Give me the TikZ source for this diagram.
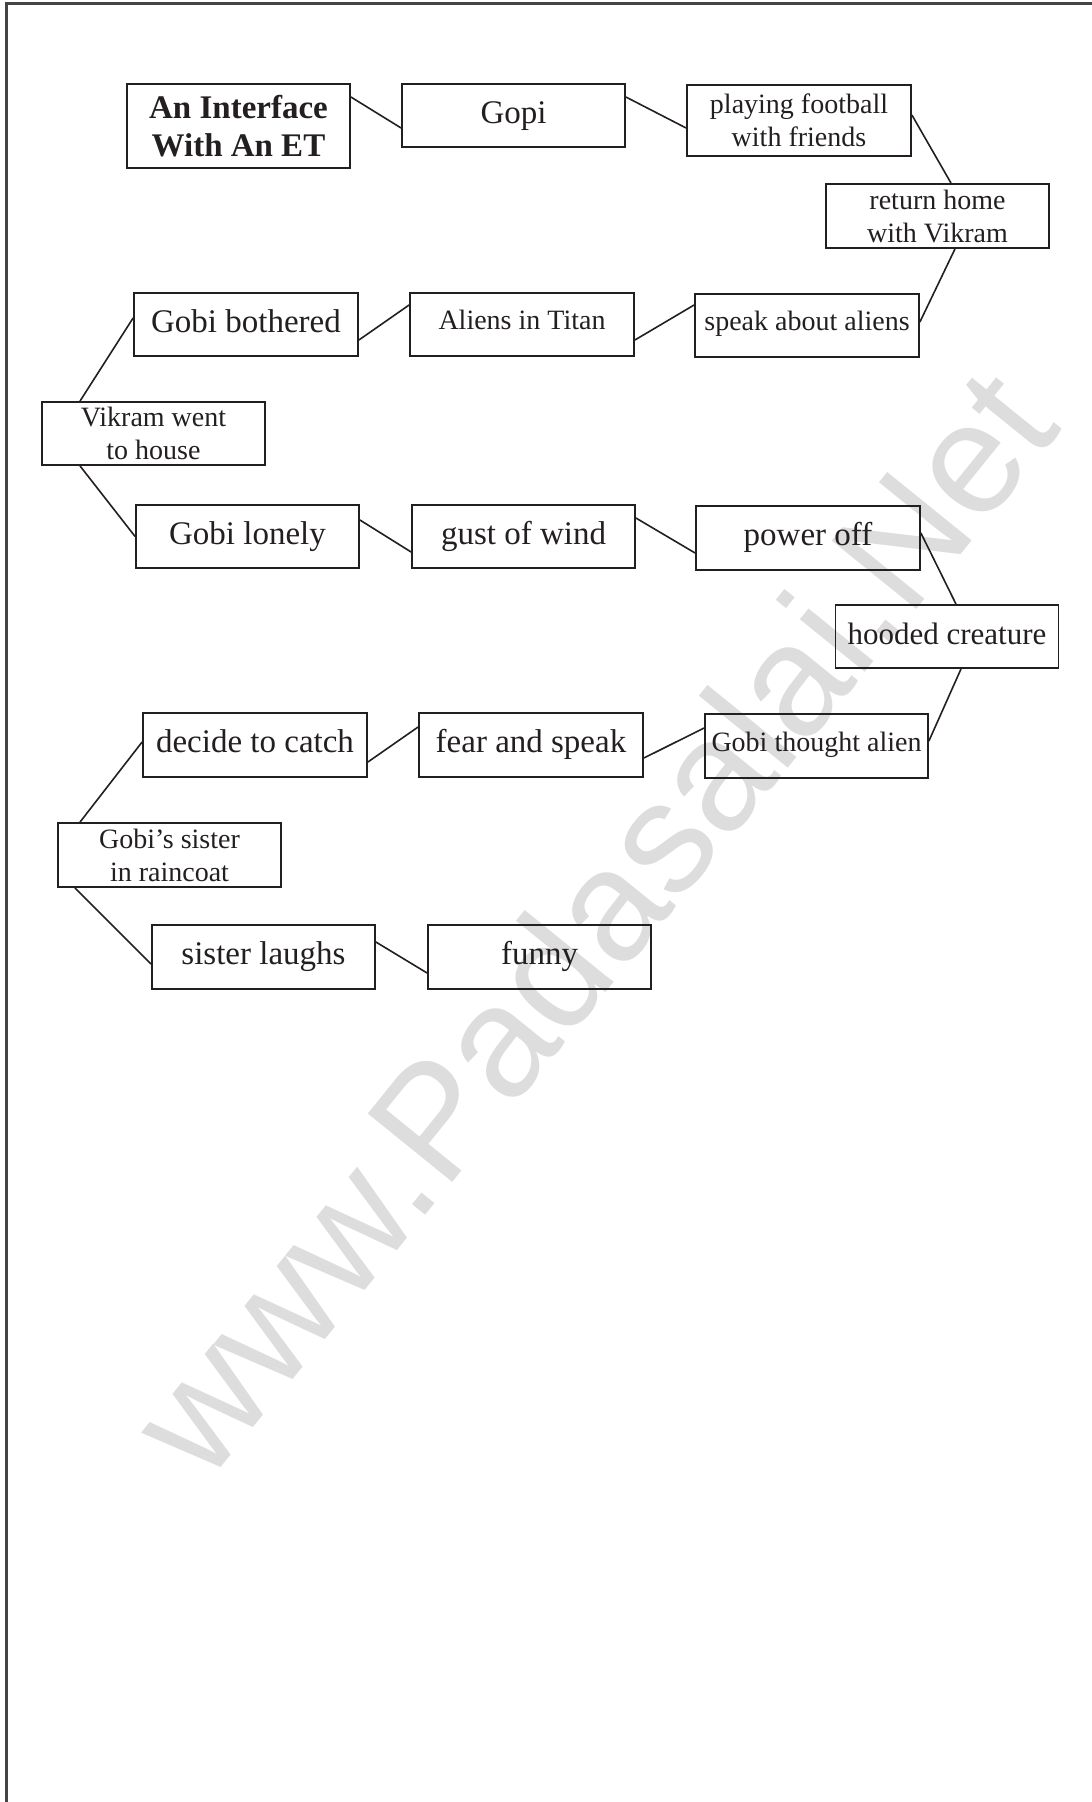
\documentclass[tikz,border=0pt]{standalone}
\usepackage{fontspec}
\setmainfont{Liberation Serif}
\newfontfamily\wmfont{Liberation Sans}
\definecolor{ink}{HTML}{231F20}
\definecolor{wmgray}{HTML}{DDDDDD}
\definecolor{framegray}{HTML}{444444}
\tikzset{
  box/.style={draw=ink, line width=1.8pt, inner sep=0pt, minimum width=223pt, minimum height=63pt, text=ink, align=center},
  big/.style={font=\fontsize{33}{38}\selectfont, text height=22pt, text depth=7pt},
  small/.style={font=\fontsize{28}{33}\selectfont, text height=19pt, text depth=9pt},
  smalltwo/.style={font=\fontsize{28}{33}\selectfont},
  link/.style={draw=ink, line width=1.6pt},
}
\begin{document}
\begin{tikzpicture}[x=1pt,y=-1pt]
\useasboundingbox (0,0) rectangle (1092,1802);
% watermark
\node[rotate=51, text=wmgray, inner sep=0pt, font=\wmfont\fontsize{158}{158}\selectfont] (wmark) at (591,921.5) {www.Padasalai.Net};
% frame
\draw[framegray, line width=2.5pt] (6.5,1802) -- (6.5,3.5) -- (1092,3.5);
% nodes
\node[box, minimum height=84pt, font=\bfseries\fontsize{33}{38}\selectfont] (title) at (238.5,126) {An Interface\\With An ET};
\node[box, big] (gopi) at (513.5,115.5) {Gopi};
\node[box, smalltwo, minimum width=224pt, minimum height=71pt] (play) at (799,120.5) {playing football\\with friends};
\node[box, smalltwo, minimum height=64pt] (ret) at (937.5,216) {return home\\with Vikram};
\node[box, small, minimum width=224pt] (speak) at (807,325.5) {speak about aliens};
\node[box, small, minimum width=224pt] (aliens) at (522,324.5) {Aliens in Titan};
\node[box, big, minimum width=224pt] (bothered) at (246,324.5) {Gobi bothered};
\node[box, smalltwo] (vikram) at (153.5,433.5) {Vikram went\\to house};
\node[box, big] (lonely) at (247.5,536.5) {Gobi lonely};
\node[box, big] (gust) at (523.5,536.5) {gust of wind};
\node[box, big, minimum width=224pt, minimum height=64pt] (power) at (808,538) {power off};
\node[box, big, font=\fontsize{31}{36}\selectfont] (hooded) at (947,636.5) {hooded creature};
\node[box, small, minimum height=64pt] (thought) at (816.5,746) {Gobi thought alien};
\node[box, big, minimum width=224pt, minimum height=64pt] (fear) at (531,745) {fear and speak};
\node[box, big, minimum width=224pt, minimum height=64pt] (decide) at (255,745) {decide to catch};
\node[box, smalltwo, minimum height=64pt] (sister) at (169.5,855) {Gobi’s sister\\in raincoat};
\node[box, big, minimum height=64pt] (laughs) at (263.5,957) {sister laughs};
\node[box, big, minimum height=64pt] (funny) at (539.5,957) {funny};
% connectors
\draw[link] ([yshift=29pt]title.east) -- ([yshift=-12.5pt]gopi.west);
\draw[link] ([yshift=18.5pt]gopi.east) -- ([yshift=-7.5pt]play.west);
\draw[link] ([yshift=5.5pt]play.east) -- ([xshift=13.5pt]ret.north);
\draw[link] ([xshift=17.5pt]ret.south) -- ([yshift=3.5pt]speak.east);
\draw[link] ([yshift=20.5pt]speak.west) -- ([yshift=-15.5pt]aliens.east);
\draw[link] ([yshift=19.5pt]aliens.west) -- ([yshift=-15.5pt]bothered.east);
\draw[link] ([yshift=6.5pt]bothered.west) -- ([xshift=-73.5pt]vikram.north);
\draw[link] ([xshift=-73.5pt]vikram.south) -- (lonely.west);
\draw[link] ([yshift=16.5pt]lonely.east) -- ([yshift=-15.5pt]gust.west);
\draw[link] ([yshift=18.5pt]gust.east) -- ([yshift=-15pt]power.west);
\draw[link] ([yshift=5pt]power.east) -- ([xshift=9pt]hooded.north);
\draw[link] ([xshift=14pt]hooded.south) -- ([yshift=5pt]thought.east);
\draw[link] ([yshift=18pt]thought.west) -- ([yshift=-13pt]fear.east);
\draw[link] ([yshift=18pt]fear.west) -- ([yshift=-17pt]decide.east);
\draw[link] ([yshift=3pt]decide.west) -- ([xshift=-89.5pt]sister.north);
\draw[link] ([xshift=-94.5pt]sister.south) -- ([yshift=-7pt]laughs.west);
\draw[link] ([yshift=15pt]laughs.east) -- ([yshift=-16pt]funny.west);
\end{tikzpicture}
\end{document}
